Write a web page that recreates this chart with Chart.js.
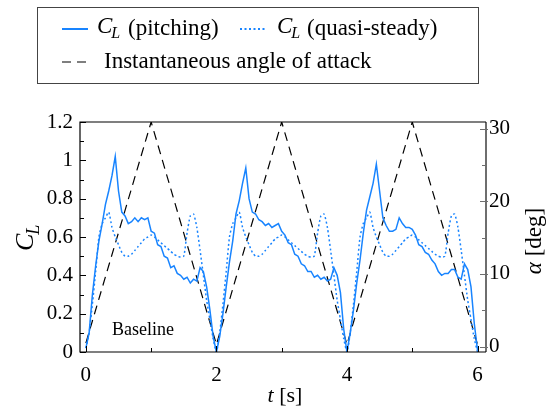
<!DOCTYPE html>
<html>
<head>
<meta charset="utf-8">
<script src="https://cdn.jsdelivr.net/npm/chart.js@4.4.0/dist/chart.umd.min.js"></script>
<style>
body{margin:0;background:#fff;}
#contenedor{width:548px;height:410px;}
</style>
</head>
<body>
<div id="contenedor"><canvas id="grafica" width="548" height="410"></canvas></div>
<script>
// tiempo [s], paso 0.05
var tiempo = [
    0.00,0.05,0.10,0.15,0.20,0.25,0.30,0.35,0.40,0.45,0.50,0.55,0.60,0.65,0.70,0.75,0.80,0.85,0.90,0.95,
    1.00,1.05,1.10,1.15,1.20,1.25,1.30,1.35,1.40,1.45,1.50,1.55,1.60,1.65,1.70,1.75,1.80,1.85,1.90,1.95,
    2.00,2.05,2.10,2.15,2.20,2.25,2.30,2.35,2.40,2.45,2.50,2.55,2.60,2.65,2.70,2.75,2.80,2.85,2.90,2.95,
    3.00,3.05,3.10,3.15,3.20,3.25,3.30,3.35,3.40,3.45,3.50,3.55,3.60,3.65,3.70,3.75,3.80,3.85,3.90,3.95,
    4.00,4.05,4.10,4.15,4.20,4.25,4.30,4.35,4.40,4.45,4.50,4.55,4.60,4.65,4.70,4.75,4.80,4.85,4.90,4.95,
    5.00,5.05,5.10,5.15,5.20,5.25,5.30,5.35,5.40,5.45,5.50,5.55,5.60,5.65,5.70,5.75,5.80,5.85,5.90,5.95,
    6.00
];
var clPitching = [
    0.02,0.10,0.30,0.45,0.58,0.67,0.77,0.84,0.92,1.02,0.84,0.73,0.71,0.67,0.68,0.70,0.68,0.70,0.69,0.70,
    0.63,0.62,0.56,0.55,0.50,0.49,0.44,0.45,0.41,0.40,0.38,0.39,0.36,0.38,0.37,0.44,0.42,0.34,0.22,0.08,
    0.00,0.08,0.20,0.34,0.47,0.58,0.72,0.79,0.88,0.96,0.80,0.73,0.72,0.69,0.68,0.66,0.67,0.65,0.66,0.67,
    0.63,0.61,0.57,0.56,0.51,0.50,0.46,0.45,0.42,0.42,0.39,0.40,0.38,0.39,0.37,0.38,0.44,0.40,0.31,0.12,
    0.00,0.10,0.22,0.36,0.48,0.62,0.74,0.81,0.88,0.98,0.84,0.70,0.66,0.63,0.63,0.64,0.70,0.67,0.65,0.65,
    0.64,0.61,0.56,0.55,0.52,0.51,0.48,0.46,0.42,0.40,0.41,0.41,0.43,0.43,0.39,0.38,0.46,0.43,0.34,0.15,
    0.01
];
var clQuasi = [
    0.02,0.10,0.25,0.42,0.60,0.67,0.70,0.73,0.65,0.60,0.56,0.52,0.50,0.50,0.51,0.53,0.55,0.57,0.59,0.60,
    0.61,0.60,0.585,0.57,0.555,0.54,0.525,0.51,0.50,0.495,0.50,0.62,0.71,0.72,0.65,0.53,0.40,0.27,0.17,0.07,
    0.00,0.10,0.25,0.42,0.60,0.67,0.70,0.73,0.65,0.60,0.56,0.52,0.50,0.50,0.51,0.53,0.55,0.57,0.59,0.60,
    0.61,0.60,0.585,0.57,0.555,0.54,0.525,0.51,0.50,0.495,0.50,0.62,0.71,0.72,0.65,0.53,0.40,0.27,0.17,0.07,
    0.00,0.10,0.25,0.42,0.60,0.67,0.70,0.73,0.65,0.60,0.56,0.52,0.50,0.50,0.51,0.53,0.55,0.57,0.59,0.60,
    0.61,0.60,0.585,0.57,0.555,0.54,0.525,0.51,0.50,0.495,0.50,0.62,0.71,0.72,0.65,0.53,0.40,0.27,0.17,0.07,
    0.00
];
// angulo de ataque [deg]
var tiempoAlpha = [0,1,2,3,4,5,6];
var alphaDeg = [0.5,30.9,0.3,30.9,0.3,30.9,0.3];

var ticksX = [0,2,4,6];
var ticksXMenor = [1,3,5];
var ticksCL = [0,0.2,0.4,0.6,0.8,1,1.2];
var ticksCLMenor = [0.1,0.3,0.5,0.7,0.9,1.1];
var ticksAlpha = [0,10,20,30];
var ticksAlphaMenor = [5,15,25];

var azul = 'rgb(24,132,255)';
var fuente = '"Liberation Serif", "Times New Roman", serif';

var pares = function (xs, ys){
    var out = [];
    for (var i = 0; i < xs.length; i++) {
        out.push({x: xs[i], y: ys[i]});
    }
    return out;
};

function escribirCL(ctx, x, y, size){
    ctx.font = 'italic ' + size + 'px ' + fuente;
    ctx.fillText('C', x, y);
    var w = ctx.measureText('C').width;
    ctx.font = 'italic ' + Math.round(size * 0.7) + 'px ' + fuente;
    ctx.fillText('L', x + w - 1, y + size * 0.3);
    return x + w - 1 + ctx.measureText('L').width;
}

var marco = {
    id: 'marco',
    afterDraw: function (chart){
        var ctx = chart.ctx, a = chart.chartArea;
        var sx = chart.scales.x, sy = chart.scales.y, sa = chart.scales.y2;
        ctx.save();
        ctx.strokeStyle = '#000';
        ctx.lineWidth = 1;
        ctx.beginPath();
        ticksCL.forEach(function (v){
            var y = Math.round(sy.getPixelForValue(v)) + 0.5;
            ctx.moveTo(a.left, y); ctx.lineTo(a.left + 6, y);
        });
        ticksCLMenor.forEach(function (v){
            var y = Math.round(sy.getPixelForValue(v)) + 0.5;
            ctx.moveTo(a.left, y); ctx.lineTo(a.left + 4, y);
        });
        ticksX.forEach(function (v){
            var x = Math.round(sx.getPixelForValue(v)) + 0.5;
            ctx.moveTo(x, a.bottom); ctx.lineTo(x, a.bottom - 6);
        });
        ticksXMenor.forEach(function (v){
            var x = Math.round(sx.getPixelForValue(v)) + 0.5;
            ctx.moveTo(x, a.bottom); ctx.lineTo(x, a.bottom - 4);
        });
        ctx.stroke();
        // eje derecho gris
        ctx.strokeStyle = '#6e6e6e';
        ctx.beginPath();
        ticksAlpha.forEach(function (v){
            var y = Math.round(sa.getPixelForValue(v)) + 0.5;
            ctx.moveTo(a.right + 2, y); ctx.lineTo(a.right - 6, y);
        });
        ticksAlphaMenor.forEach(function (v){
            var y = Math.round(sa.getPixelForValue(v)) + 0.5;
            ctx.moveTo(a.right, y); ctx.lineTo(a.right - 4, y);
        });
        ctx.stroke();
        ctx.lineWidth = 2;
        ctx.beginPath();
        ctx.moveTo(a.right, a.top); ctx.lineTo(a.right, a.bottom);
        ctx.stroke();
        ctx.strokeStyle = '#000';
        ctx.lineWidth = 1.2;
        ctx.beginPath();
        ctx.moveTo(a.right, a.top); ctx.lineTo(a.left, a.top);
        ctx.lineTo(a.left, a.bottom); ctx.lineTo(a.right, a.bottom);
        ctx.stroke();

        // titulos de ejes
        ctx.fillStyle = '#000';
        ctx.textBaseline = 'middle';
        ctx.textAlign = 'left';
        ctx.save();
        ctx.translate(26, (a.top + a.bottom) / 2);
        ctx.rotate(-Math.PI / 2);
        escribirCL(ctx, -14, 0, 26);
        ctx.restore();

        ctx.save();
        ctx.translate(535, (a.top + a.bottom) / 2 + 4);
        ctx.rotate(-Math.PI / 2);
        ctx.font = 'italic 23px ' + fuente;
        var wA = ctx.measureText('\u03b1').width;
        ctx.font = '23px ' + fuente;
        var wB = ctx.measureText(' [deg]').width;
        var x0 = -(wA + wB) / 2;
        ctx.font = 'italic 23px ' + fuente;
        ctx.fillText('\u03b1', x0, 0);
        ctx.font = '23px ' + fuente;
        ctx.fillText(' [deg]', x0 + wA, 0);
        ctx.restore();

        ctx.font = 'italic 22px ' + fuente;
        var wt = ctx.measureText('t').width;
        ctx.font = '22px ' + fuente;
        var ws = ctx.measureText(' [s]').width;
        var xt = (a.left + a.right) / 2 - (wt + ws) / 2 + 2;
        ctx.font = 'italic 22px ' + fuente;
        ctx.fillText('t', xt, 396);
        ctx.font = '22px ' + fuente;
        ctx.fillText(' [s]', xt + wt, 396);

        ctx.font = '18px ' + fuente;
        ctx.fillText('Baseline', 112, 330);

        // leyenda
        ctx.strokeStyle = '#444';
        ctx.lineWidth = 1;
        ctx.strokeRect(37.5, 7.5, 441, 76);
        ctx.lineWidth = 2;
        ctx.strokeStyle = azul;
        ctx.beginPath(); ctx.moveTo(62, 29); ctx.lineTo(88, 29); ctx.stroke();
        ctx.setLineDash([2, 2.5]);
        ctx.beginPath(); ctx.moveTo(240, 29); ctx.lineTo(266, 29); ctx.stroke();
        ctx.strokeStyle = '#000';
        ctx.lineWidth = 1.2;
        ctx.setLineDash([9, 6]);
        ctx.beginPath(); ctx.moveTo(62, 62); ctx.lineTo(92, 62); ctx.stroke();
        ctx.setLineDash([]);
        ctx.fillStyle = '#000';
        escribirCL(ctx, 97, 27, 23);
        ctx.font = '23px ' + fuente;
        ctx.fillText('(pitching)', 128, 29);
        escribirCL(ctx, 277, 27, 23);
        ctx.font = '23px ' + fuente;
        ctx.fillText('(quasi-steady)', 307, 29);
        ctx.fillText('Instantaneous angle of attack', 104, 62);
        ctx.restore();
    }
};

var datos = {
    type: 'line',
    data: {
        datasets: [{
            label: 'CL (pitching)',
            data: pares(tiempo, clPitching),
            yAxisID: 'y',
            borderColor: azul,
            borderWidth: 1.5,
            pointRadius: 0,
            tension: 0
        }, {
            label: 'CL (quasi-steady)',
            data: pares(tiempo, clQuasi),
            yAxisID: 'y',
            borderColor: azul,
            borderWidth: 1.5,
            borderDash: [2, 2.5],
            pointRadius: 0,
            tension: 0.2
        }, {
            label: 'Instantaneous angle of attack',
            data: pares(tiempoAlpha, alphaDeg),
            yAxisID: 'y2',
            borderColor: '#000',
            borderWidth: 1.2,
            borderDash: [9, 6],
            pointRadius: 0,
            tension: 0
        }]
    },
    options: {
        responsive: false,
        animation: false,
        devicePixelRatio: 1,
        layout: {padding: {top: 122, left: 0, right: 0, bottom: 0}},
        plugins: {legend: {display: false}, tooltip: {enabled: false}},
        scales: {
            x: {
                type: 'linear',
                min: -0.09,
                max: 6.13,
                afterBuildTicks: function (s){ s.ticks = ticksX.map(function (v){ return {value: v}; }); },
                afterFit: function (s){ s.height = 58; },
                grid: {display: false, drawTicks: false},
                border: {display: false},
                ticks: {color: '#000', padding: 11, font: {family: fuente, size: 21}, maxRotation: 0}
            },
            y: {
                position: 'left',
                min: 0,
                max: 1.2,
                afterBuildTicks: function (s){ s.ticks = ticksCL.map(function (v){ return {value: v}; }); },
                afterFit: function (s){ s.width = 80; },
                grid: {display: false, drawTicks: false},
                border: {display: false},
                ticks: {
                    color: '#000', padding: 7, font: {family: fuente, size: 21},
                    callback: function (v){ return String(Math.round(v * 10) / 10); }
                }
            },
            y2: {
                position: 'right',
                min: -0.73,
                max: 30.9,
                afterBuildTicks: function (s){ s.ticks = ticksAlpha.map(function (v){ return {value: v}; }); },
                afterFit: function (s){ s.width = 62; },
                grid: {display: false, drawTicks: false},
                border: {display: false},
                ticks: {color: '#000', padding: 3, font: {family: fuente, size: 21}}
            }
        }
    },
    plugins: [marco]
};

var canvas = document.getElementById('grafica').getContext('2d');
var grafica = new Chart(canvas, datos);
</script>
</body>
</html>
